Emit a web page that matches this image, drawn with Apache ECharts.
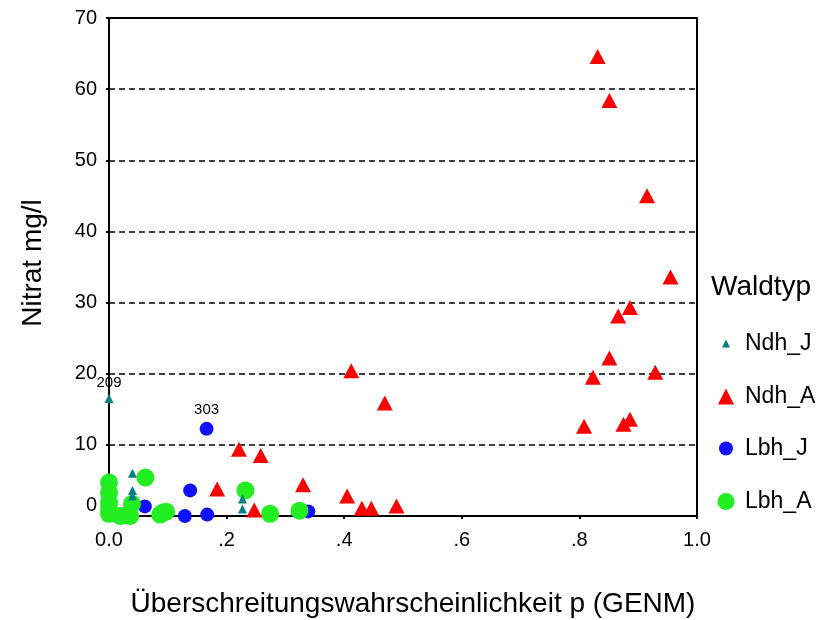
<!DOCTYPE html>
<html>
<head>
<meta charset="utf-8">
<script src="https://cdn.jsdelivr.net/npm/echarts@6/dist/echarts.min.js"></script>
<style>
html,body{margin:0;padding:0;background:#fff;}
#chart{width:825px;height:620px;}
</style>
</head>
<body>
<div id="chart"></div>
<script>
// ---- data (x = Überschreitungswahrscheinlichkeit p, y = Nitrat mg/l) ----
var seriesNames = ['Ndh_J', 'Ndh_A', 'Lbh_J', 'Lbh_A'];
var ndhJ = [[0.0,16.5],[0.040,6.0],[0.040,3.6],[0.040,2.8],[0.227,2.4],[0.227,1.0]];
var ndhA = [[0.831,64.6],[0.851,58.4],[0.915,45.0],[0.955,33.6],[0.886,29.3],[0.866,28.1],
            [0.851,22.2],[0.929,20.2],[0.823,19.5],[0.886,13.6],[0.875,12.9],[0.808,12.6],
            [0.412,20.4],[0.469,15.9],[0.405,2.8],[0.430,1.1],[0.446,1.1],[0.489,1.4],
            [0.221,9.4],[0.258,8.5],[0.184,3.8],[0.247,0.85],[0.330,4.4]];
var lbhJ = [[0.166,12.25],[0.138,3.6],[0.061,1.35],[0.129,0.0],[0.167,0.2],[0.339,0.65]];
var lbhA = [[0.0,4.7],[0.0,3.3],[0.0,1.9],[0.0,1.0],[0.0,0.3],[0.019,0.0],[0.030,0.1],
            [0.036,0.0],[0.039,1.7],[0.062,5.4],[0.087,0.2],[0.092,0.5],[0.097,0.6],
            [0.232,3.6],[0.274,0.3],[0.324,0.75]];
// case labels shown next to single points: [seriesName, pointIndex, label]
var caseLabels = [['Ndh_J', 0, '209'], ['Lbh_J', 0, '303']];
var xTickLabels = ['0.0', '.2', '.4', '.6', '.8', '1.0'];
var yTicks = [0, 10, 20, 30, 40, 50, 60, 70];

var FONT = '"Liberation Sans", Arial, sans-serif';
var styles = {
  'Ndh_J': {symbol: 'triangle', size: 9, color: '#008080', z: 5},
  'Ndh_A': {symbol: 'triangle', size: [16, 15], color: '#ff0000', z: 4},
  'Lbh_J': {symbol: 'circle', size: 14, color: '#1010ff', z: 2},
  'Lbh_A': {symbol: 'circle', size: 18, color: '#22ee22', z: 3}
};
var dataMap = {'Ndh_J': ndhJ, 'Ndh_A': ndhA, 'Lbh_J': lbhJ, 'Lbh_A': lbhA};

function buildData(name) {
  return dataMap[name].map(function (d, i) {
    var lab = caseLabels.filter(function (c) { return c[0] === name && c[1] === i; })[0];
    if (lab) {
      return {value: d, label: {show: true, formatter: lab[2], position: 'top', distance: 4,
              color: '#000', fontSize: 15, fontFamily: FONT}};
    }
    return d;
  });
}

var series = seriesNames.map(function (name) {
  var s = styles[name];
  return {
    name: name, type: 'scatter', z: s.z, clip: false,
    symbol: s.symbol, symbolSize: s.size,
    itemStyle: {color: s.color, opacity: 1},
    emphasis: {disabled: true},
    data: buildData(name)
  };
});

var legendRows = [345, 398, 450, 503];
var legendIconW = {'Ndh_J': 8, 'Ndh_A': 16, 'Lbh_J': 14, 'Lbh_A': 17};
var legends = seriesNames.map(function (name, i) {
  var w = legendIconW[name];
  return {
    data: [{name: name, icon: styles[name].symbol}],
    orient: 'vertical', padding: 0,
    left: 726 - w / 2, top: legendRows[i] - 13,
    itemWidth: w, itemHeight: w, itemGap: 0,
    selectedMode: false,
    textStyle: {fontSize: 23, fontFamily: FONT, color: '#000', padding: [0, 0, 0, 14 - w / 2]}
  };
});

var chart = echarts.init(document.getElementById('chart'));
chart.setOption({
  animation: false,
  backgroundColor: '#fff',
  title: {text: 'Waldtyp', left: 711, top: 273, padding: 0,
          textStyle: {fontSize: 28, fontWeight: 'normal', fontFamily: FONT, color: '#000'}},
  legend: legends,
  grid: {left: 109, right: 128, top: 18, bottom: 104, show: true, outerBoundsMode: 'none',
         containLabel: false,
         borderColor: '#000', borderWidth: 2, backgroundColor: 'transparent'},
  xAxis: {
    type: 'value', min: 0, max: 1, interval: 0.2,
    name: 'Überschreitungswahrscheinlichkeit p (GENM)', nameLocation: 'middle', nameGap: 74,
    nameTextStyle: {fontSize: 28, fontFamily: FONT, color: '#000', padding: [0, 0, 0, 20]},
    axisLine: {show: true, lineStyle: {color: '#000', width: 2}},
    axisTick: {show: true, length: 3, lineStyle: {color: '#000', width: 2}},
    splitLine: {show: false},
    axisLabel: {fontSize: 20, fontFamily: FONT, color: '#000', margin: 14,
      formatter: function (v) { return xTickLabels[Math.round(v / 0.2)]; }}
  },
  yAxis: {
    type: 'value', min: yTicks[0], max: yTicks[yTicks.length - 1], interval: 10,
    name: 'Nitrat mg/l', nameLocation: 'middle', nameGap: 62, nameRotate: 90,
    nameTextStyle: {fontSize: 28, fontFamily: FONT, color: '#000', padding: [0, 0, 0, 8]},
    axisLine: {show: true, lineStyle: {color: '#000', width: 2}},
    axisTick: {show: true, length: 3, lineStyle: {color: '#000', width: 2}},
    splitLine: {show: true, lineStyle: {color: '#000', width: 1.5, type: [6, 4]}},
    axisLabel: {fontSize: 20, fontFamily: FONT, color: '#000', margin: 12,
      formatter: function (v) { return v === 0 ? '{z|0}' : String(v); },
      rich: {z: {fontSize: 20, fontFamily: FONT, color: '#000', padding: [0, 0, 22, 0]}}}
  },
  series: series
});
</script>
</body>
</html>
